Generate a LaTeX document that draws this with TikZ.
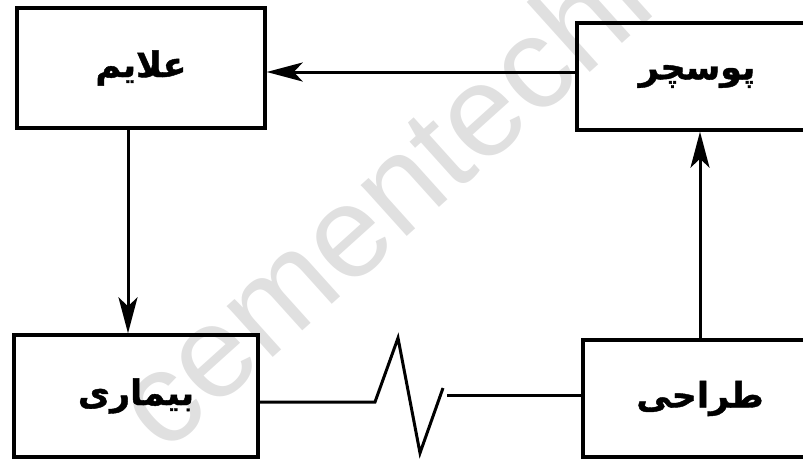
\documentclass[tikz,border=0pt]{standalone}
\usepackage{fontspec}
\TeXXeTstate=1
\newfontfamily\arabicfont[Script=Arabic, FakeBold=1.2]{DejaVu Sans Bold}
\newfontfamily\markfont{Liberation Sans}
\usetikzlibrary{arrows.meta,calc}
\tikzset{
  box/.style={draw=black, line width=3.4pt, inner sep=0pt,
    font=\arabicfont\fontsize{35}{40}\selectfont},
  link/.style={draw=black, line width=3pt},
  tip/.style={-{Stealth[length=36pt,width=19pt,inset=9pt]}},
}
\begin{document}
\begin{tikzpicture}[x=1pt,y=-1pt]
\useasboundingbox (0,0) rectangle (803,461);
\clip (0,0) rectangle (803,461);
% faint diagonal watermark behind the diagram
\node[anchor=mid west, inner sep=0pt, rotate=42, text=black!12,
      font=\markfont\fontsize{130}{130}\selectfont] (wm) at (163,454) {cementechno.com};
% the four boxes
\node[box, minimum width=248pt, minimum height=120pt] (sym) at (141,68)
  {\beginR علایم\endR};
\node[box, minimum width=240pt, minimum height=107pt] (pos) at (697,76.5)
  {\raisebox{-7pt}{\beginR پوسچر\endR}};
\node[box, minimum width=244pt, minimum height=122pt] (dis) at (136,396)
  {\beginR بیماری\endR};
\node[box, minimum width=234pt, minimum height=117pt] (des) at (700,398.5)
  {\beginR طراحی\endR};
% connectors
\draw[link, tip] (pos.west |- 0,72) -- (sym.east |- 0,72);
\draw[link, tip] (sym.south -| 128,0) -- (dis.north -| 128,0);
\draw[link, tip] (des.north) -- (pos.south -| des.north);
% broken link between the two lower boxes
\coordinate (z1) at (375,402);
\coordinate (z2) at (398,338);
\coordinate (z3) at (420,453);
\coordinate (z4) at (443,388);
\coordinate (z5) at (447,395);
\draw[link, line join=miter] (dis.east |- z1) -- (z1) -- (z2) -- (z3) -- (z4);
\draw[link] (z5) -- (des.west |- z5);
\end{tikzpicture}
\end{document}
